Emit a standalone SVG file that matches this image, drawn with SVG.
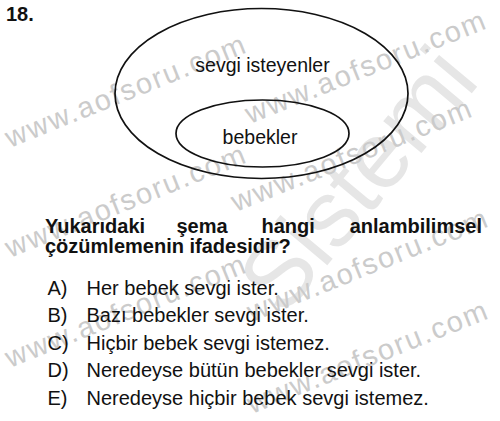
<svg xmlns="http://www.w3.org/2000/svg" width="500" height="421" viewBox="0 0 500 421">
<style>
.wm{font-family:"Liberation Sans",Arial,sans-serif;font-size:29px;fill:#cbcbcb}
.big{font-family:"Liberation Sans",Arial,sans-serif;font-size:94px;fill:#e6e6e6}
.lbl{font-family:"Liberation Sans",Arial,sans-serif;font-size:19.5px;fill:#111;text-anchor:middle}
.q{font-family:"Liberation Sans",Arial,sans-serif;font-size:20px;font-weight:bold;fill:#111}
.opt{font-family:"Liberation Sans",Arial,sans-serif;font-size:20px;fill:#111}
.ell{fill:none;stroke:#111;stroke-width:1.7}
</style>
<rect width="500" height="421" fill="#fff"/>
<g id="watermark">
<text class="big" transform="translate(283,318) rotate(-50)">Sistemi</text>
<text class="wm" transform="translate(10,148) rotate(-22)" textLength="256">www.aofsoru.com</text>
<text class="wm" transform="translate(10,258) rotate(-22)" textLength="256">www.aofsoru.com</text>
<text class="wm" transform="translate(10,368) rotate(-22)" textLength="256">www.aofsoru.com</text>
<text class="wm" transform="translate(250,124) rotate(-22)" textLength="256">www.aofsoru.com</text>
<text class="wm" transform="translate(236,212) rotate(-22)" textLength="256">www.aofsoru.com</text>
<text class="wm" transform="translate(252,322) rotate(-22)" textLength="256">www.aofsoru.com</text>
<text class="wm" transform="translate(252,414) rotate(-22)" textLength="256">www.aofsoru.com</text>
</g>
<text class="q" x="6" y="21">18.</text>
<g id="outer">
<ellipse class="ell" cx="261.5" cy="93.5" rx="146.5" ry="85"/>
<text class="lbl" x="262.5" y="72">sevgi isteyenler</text>
</g>
<g id="inner">
<ellipse class="ell" cx="262.5" cy="133.5" rx="86.5" ry="33.5"/>
<text class="lbl" x="260" y="144">bebekler</text>
</g>
<g id="connectors"/>
<g id="question">
<text class="q" x="45" y="233">Yukarıdaki</text>
<text class="q" x="176.5" y="233">şema</text>
<text class="q" x="261.5" y="233">hangi</text>
<text class="q" x="482" y="233" text-anchor="end">anlambilimsel</text>
<text class="q" x="45" y="253">çözümlemenin ifadesidir?</text>
</g>
<g id="options">
<text class="opt" x="47.5" y="294.5">A)</text><text class="opt" x="86.5" y="294.5">Her bebek sevgi ister.</text>
<text class="opt" x="47.5" y="322">B)</text><text class="opt" x="86.5" y="322">Bazı bebekler sevgi ister.</text>
<text class="opt" x="47.5" y="349.5">C)</text><text class="opt" x="86.5" y="349.5">Hiçbir bebek sevgi istemez.</text>
<text class="opt" x="47.5" y="377">D)</text><text class="opt" x="86.5" y="377">Neredeyse bütün bebekler sevgi ister.</text>
<text class="opt" x="47.5" y="404.5">E)</text><text class="opt" x="86.5" y="404.5">Neredeyse hiçbir bebek sevgi istemez.</text>
</g>
</svg>
